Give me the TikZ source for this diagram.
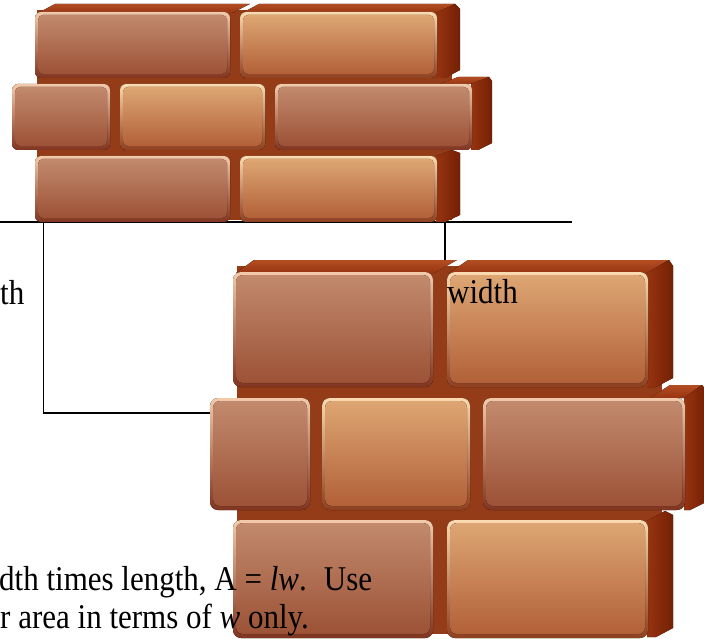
\documentclass[tikz,border=0pt]{standalone}
\usepackage{fontspec}
\usepackage{graphicx}
\setmainfont{Liberation Serif}
\definecolor{mortar}{HTML}{943C18}
\definecolor{sideL}{HTML}{963410}
\definecolor{sideR}{HTML}{742004}
\definecolor{topT}{HTML}{B24C22}
\definecolor{topB}{HTML}{983612}
\definecolor{rT}{HTML}{C28A6E}
\definecolor{rM}{HTML}{B57460}
\definecolor{rB}{HTML}{9C5236}
\definecolor{rH}{HTML}{F2CAAA}
\definecolor{rD}{HTML}{803420}
\definecolor{tT}{HTML}{DDA673}
\definecolor{tM}{HTML}{D29462}
\definecolor{tB}{HTML}{B26038}
\definecolor{tH}{HTML}{FADAB0}
\definecolor{tD}{HTML}{8E4020}
\tikzset{
  ln/.style={draw=black, line width=1.4pt},
  txt/.style={inner sep=0pt, font=\fontsize{31}{38}\selectfont},
  sideface/.style={left color=sideL, right color=sideR},
  topface/.style={top color=topT, bottom color=topB},
}
\newcommand\rc{6pt}
\newcommand\rci{5pt}
% brick: x1 y1 x2 y2 kind(r/t)
\newcommand\brk[5]{%
  \fill[rounded corners=\rc, top color=#5H, bottom color=#5D] (#1,#2) rectangle (#3,#4);
  \fill[rounded corners=\rci, top color=#5T, middle color=#5M, bottom color=#5B] (#1+3,#2+3) rectangle (#3-3,#4-4);
}
\newcommand\stretchtxt[1]{\scalebox{1}[1.12]{#1}}
\begin{document}
\begin{tikzpicture}[x=1pt,y=-1pt]
\useasboundingbox (0,0) rectangle (704,639);
\clip (0,0) rectangle (704,639);
\fill[white] (0,0) rectangle (704,639);
% connector points
\coordinate (hl) at (0,222);
\coordinate (hr) at (572,222);
\coordinate (v1t) at (43.5,222);
\coordinate (v1b) at (43.5,413);
\coordinate (v1e) at (214,413);
\coordinate (v2t) at (445,222);
\coordinate (v2b) at (445,266);
\draw[ln] (hl) -- (hr);
\draw[ln] (v1t) -- (v1b) -- (v1e);
\draw[ln] (v2t) -- (v2b);
% ---------- upper wall ----------
\fill[mortar] (37,10) rectangle (452,220);
\fill[topface] (38,13) -- (55,4) -- (250,4) -- (232,13) -- cycle;
\fill[topface] (242,13) -- (259,4) -- (455,4) -- (437,13) -- cycle;
\fill[topface] (440,84) -- (458,77) -- (489,77) -- (471,84) -- cycle;
\fill[sideface] (436,13) -- (455,4) -- (460,9) -- (460,70) -- (445,78) -- (436,78) -- cycle;
\fill[sideface] (471,84) -- (489,77) -- (492,81) -- (492,143) -- (478,150) -- (471,150) -- cycle;
\fill[sideface] (436,156) -- (452,150) -- (460,153) -- (460,215) -- (445,222) -- (436,222) -- cycle;
\brk{35}{12}{230}{78}{r}
\brk{240}{12}{437}{78}{t}
\brk{12}{84}{110}{150}{r}
\brk{120}{84}{265}{150}{t}
\brk{275}{84}{472}{150}{r}
\brk{35}{156}{230}{222}{r}
\brk{240}{156}{437}{222}{t}
% ---------- lower wall ----------
\renewcommand\rc{8pt}
\renewcommand\rci{7pt}
\fill[mortar] (237,266) rectangle (662,634);
\fill[topface] (236,273) -- (254,260) -- (457,260) -- (434,273) -- cycle;
\fill[topface] (449,273) -- (468,260) -- (669,260) -- (648,273) -- cycle;
\fill[topface] (650,398) -- (670,385) -- (702,385) -- (685,398) -- cycle;
\fill[sideface] (647,273) -- (669,260) -- (673,266) -- (673,378) -- (656,387) -- (647,387) -- cycle;
\fill[sideface] (684,398) -- (702,385) -- (706,390) -- (706,502) -- (690,510) -- (684,510) -- cycle;
\fill[sideface] (647,521) -- (665,511) -- (673,515) -- (673,628) -- (656,637) -- (647,637) -- cycle;
\brk{233}{272}{433}{387}{r}
\brk{447}{272}{648}{387}{t}
\brk{210}{398}{310}{510}{r}
\brk{322}{398}{470}{510}{t}
\brk{483}{398}{685}{510}{r}
\brk{233}{520}{433}{638}{r}
\brk{447}{520}{648}{638}{t}
% ---------- texts ----------
\node[txt, anchor=base west] (th) at (0,304) {\stretchtxt{th}};
\node[txt, anchor=base west] (wd) at (447,303) {\stretchtxt{width}};
\node[txt, anchor=base west] (l1) at (-1,590) {\stretchtxt{dth times length, A = \textit{lw}.\hspace{0.55em}Use}};
\node[txt, anchor=base west] (l2) at (0,628) {\stretchtxt{r area in terms of \textit{w} only.}};
\end{tikzpicture}
\end{document}
